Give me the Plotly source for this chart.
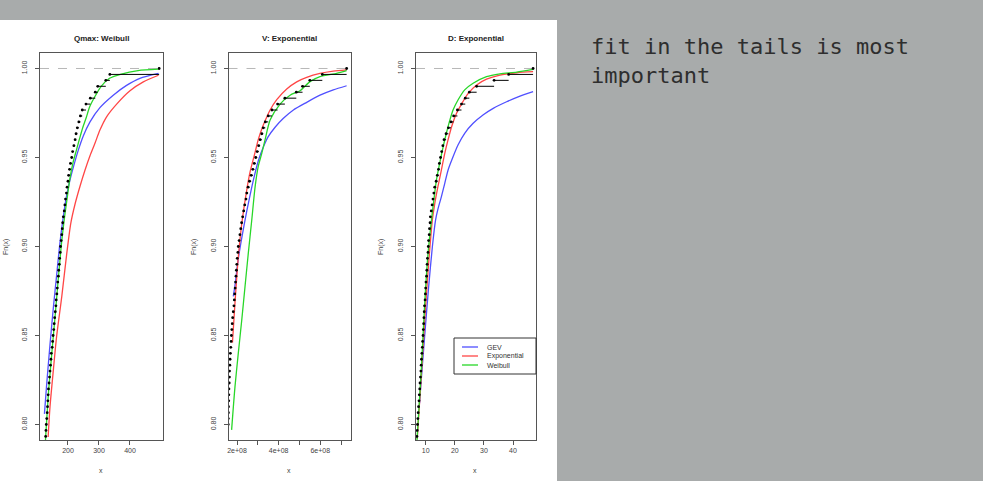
import numpy as np
import plotly.graph_objects as go

# ---------------- data ----------------
N_OBS = 300  # sample size behind each empirical CDF (only upper tail is visible)

# Panel 1: Qmax (upper-tail order statistics, ascending)
qmax_tail = [127, 128, 129, 130, 131.5, 133, 134, 135, 136, 137, 139, 140.5, 142, 143.5,
             145, 146, 149, 150.5, 152, 154, 155.5, 157, 159, 161, 162, 164, 165.5, 167,
             169, 170, 172, 173, 175, 176, 178, 180, 181.5, 183, 185, 188, 190, 192, 195,
             197, 200, 202, 205, 208, 212, 215, 219, 223, 226, 230, 235, 240, 246, 258,
             272, 288, 296, 322, 335, 494]
qmax_gev_x = [124, 131, 142, 153, 164, 174, 185, 195, 206, 218, 233, 249, 271, 303, 346, 389, 432, 492]
qmax_gev_F = [0.806, 0.822, 0.845, 0.866, 0.885, 0.902, 0.917, 0.928, 0.937, 0.945, 0.954, 0.962,
              0.970, 0.978, 0.985, 0.9905, 0.9945, 0.9973]
qmax_exp_x = [136, 142, 153, 163, 180, 196, 209, 223, 239, 255, 271, 287, 303, 325, 357, 400, 443, 492]
qmax_exp_F = [0.793, 0.810, 0.831, 0.849, 0.872, 0.896, 0.913, 0.924, 0.934, 0.943, 0.951, 0.958,
              0.9654, 0.973, 0.980, 0.9875, 0.9925, 0.9962]
qmax_wei_x = [127, 138, 158, 178, 190, 198, 205, 216, 227, 238, 248, 259, 270, 286, 307, 334, 372, 426, 492]
qmax_wei_F = [0.79, 0.82, 0.86, 0.90, 0.918, 0.928, 0.937, 0.947, 0.954, 0.961, 0.967, 0.9725,
              0.9785, 0.984, 0.990, 0.9945, 0.9969, 0.9988, 0.9996]

# Panel 2: V (values in units of 1e8)
v_tail_e8 = [1.575, 1.58, 1.585, 1.59, 1.60, 1.605, 1.61, 1.625, 1.635, 1.64, 1.655, 1.665, 1.68,
             1.70, 1.715, 1.73, 1.75, 1.77, 1.79, 1.82, 1.85, 1.87, 1.89, 1.91, 1.93, 1.95, 1.97,
             1.99, 2.01, 2.04, 2.06, 2.10, 2.14, 2.18, 2.22, 2.27, 2.32, 2.37, 2.43, 2.47, 2.53,
             2.60, 2.68, 2.76, 2.83, 2.90, 2.97, 3.04, 3.11, 3.19, 3.26, 3.36, 3.50, 3.68, 3.95,
             4.30, 4.85, 5.15, 5.50, 6.10, 7.27]
v_gev_x_e8 = [1.82, 1.90, 2.06, 2.23, 2.47, 2.63, 2.78, 3.02, 3.27, 3.50, 3.83, 4.23, 4.71, 5.35, 5.99, 6.63, 7.27]
v_gev_F = [0.872, 0.878, 0.893, 0.905, 0.920, 0.929, 0.937, 0.948, 0.956, 0.9617, 0.967, 0.972,
           0.9767, 0.981, 0.985, 0.988, 0.9903]
v_exp_x_e8 = [1.78, 1.90, 2.06, 2.23, 2.47, 2.63, 2.87, 3.02, 3.19, 3.35, 3.59, 3.91, 4.39, 4.87, 5.35, 5.99, 6.63, 7.27]
v_exp_F = [0.846, 0.868, 0.894, 0.913, 0.932, 0.942, 0.953, 0.960, 0.966, 0.9706, 0.9767, 0.9825,
           0.9885, 0.9925, 0.995, 0.9972, 0.9985, 0.9992]
v_wei_x_e8 = [1.74, 1.90, 2.06, 2.23, 2.38, 2.54, 2.71, 2.87, 3.02, 3.19, 3.35, 3.59, 4.07, 4.55, 5.03, 5.51, 5.99, 6.79, 7.27]
v_wei_F = [0.797, 0.821, 0.840, 0.859, 0.877, 0.896, 0.915, 0.9336, 0.945, 0.9523, 0.960, 0.971,
           0.980, 0.985, 0.9875, 0.9926, 0.9954, 0.9973, 0.9988]

# Panel 3: D
d_tail = [6.9, 7.0, 7.1, 7.2, 7.3, 7.4, 7.55, 7.7, 7.8, 7.95, 8.05, 8.2, 8.35, 8.45, 8.55, 8.7,
          8.85, 8.95, 9.1, 9.2, 9.3, 9.4, 9.5, 9.6, 9.8, 9.9, 10.0, 10.1, 10.3, 10.4, 10.5, 10.6,
          10.8, 10.9, 11.0, 11.2, 11.3, 11.5, 11.6, 11.9, 12.2, 12.5, 12.8, 13.1, 13.6, 14.0,
          14.4, 14.7, 15.1, 15.5, 15.9, 16.3, 17.0, 17.8, 18.7, 19.6, 20.9, 22.3, 23.6, 25.0,
          27.5, 33.5, 38.5, 46.9]
d_gev_x = [7.9, 8.1, 8.9, 9.9, 11.0, 12.3, 13.4, 14.2, 15.4, 16.55, 17.7, 19.4, 21.1, 23.4, 26.3,
           29.8, 33.2, 37.8, 42.4, 46.9]
d_gev_F = [0.812, 0.817, 0.834, 0.855, 0.877, 0.900, 0.915, 0.921, 0.928, 0.9355, 0.943, 0.9504,
           0.957, 0.9636, 0.9692, 0.974, 0.9776, 0.9813, 0.9845, 0.987]
d_exp_x = [7.1, 8.5, 9.66, 10.8, 12.3, 13.1, 14.2, 15.4, 16.55, 17.7, 18.9, 20.6, 22.3, 24.6,
           27.5, 30.9, 35.5, 41.3, 46.9]
d_exp_F = [0.792, 0.828, 0.859, 0.886, 0.915, 0.924, 0.9336, 0.943, 0.9523, 0.960, 0.9673, 0.9748,
           0.980, 0.986, 0.9907, 0.994, 0.9963, 0.9976, 0.9982]
d_wei_x = [7.0, 8.5, 9.66, 10.8, 12.0, 12.8, 13.7, 14.8, 16.0, 17.1, 18.3, 19.4, 21.1, 23.4, 26.3,
           30.9, 35.5, 41.3, 46.9]
d_wei_F = [0.791, 0.831, 0.868, 0.896, 0.915, 0.926, 0.9374, 0.9467, 0.956, 0.9636, 0.971, 0.9767,
           0.9823, 0.988, 0.9917, 0.9954, 0.997, 0.998, 0.9995]

panel_titles = ["Qmax: Weibull", "V: Exponential", "D: Exponential"]
legend_labels = ["GEV", "Exponential", "Weibull"]
y_ticks = [0.80, 0.85, 0.90, 0.95, 1.00]
y_ticktext = ["0.80", "0.85", "0.90", "0.95", "1.00"]
x_ticks = [[200, 300, 400], [2e8, 3e8, 4e8, 5e8, 6e8, 7e8], [10, 20, 30, 40]]
x_ticktext = [["200", "300", "400"], ["2e+08", "", "4e+08", "", "6e+08", ""], ["10", "20", "30", "40"]]
slide_text = ["fit in the tails is most", "important"]

# ---------------- styling / layout ----------------
W, H = 983, 481
BG = "#a8abab"
COLS = {"GEV": "rgb(80,80,255)", "Exponential": "rgb(255,70,70)", "Weibull": "rgb(40,215,40)"}
TICKFONT = dict(family="Liberation Sans, Arial, sans-serif", size=7, color="#444")


def fx(p):
    return p / W


def fy(p):
    return 1 - p / H


boxes_x = [(40, 163), (228.5, 351), (416, 536)]
box_y = (53, 440)
x_ranges = [[109.7, 506.5], [1.59e8, 7.48e8], [6.67, 47.9]]
y_range = [0.7913, 1.0087]

panels = [
    (np.array(qmax_tail, float),
     [(qmax_gev_x, qmax_gev_F), (qmax_exp_x, qmax_exp_F), (qmax_wei_x, qmax_wei_F)]),
    (np.array(v_tail_e8) * 1e8,
     [(np.array(v_gev_x_e8) * 1e8, v_gev_F), (np.array(v_exp_x_e8) * 1e8, v_exp_F),
      (np.array(v_wei_x_e8) * 1e8, v_wei_F)]),
    (np.array(d_tail, float),
     [(d_gev_x, d_gev_F), (d_exp_x, d_exp_F), (d_wei_x, d_wei_F)]),
]

fig = go.Figure()
for i, (tail, curves) in enumerate(panels):
    ax = "" if i == 0 else str(i + 1)
    xr, yr = "x" + ax, "y" + ax
    m = len(tail)
    F = (N_OBS - m + 1 + np.arange(m)) / N_OBS
    for (cx, cF), name in zip(curves, legend_labels):
        fig.add_trace(go.Scatter(x=list(cx), y=list(cF), mode="lines", xaxis=xr, yaxis=yr,
                                 line=dict(color=COLS[name], width=1.3, shape="spline", smoothing=0.7),
                                 showlegend=False, hoverinfo="skip"))
    sx, sy = [], []
    for k in range(m - 1):
        sx += [tail[k], tail[k + 1], None]
        sy += [F[k], F[k], None]
    fig.add_trace(go.Scatter(x=sx, y=sy, mode="lines", xaxis=xr, yaxis=yr,
                             line=dict(color="black", width=1), showlegend=False, hoverinfo="skip"))
    fig.add_trace(go.Scatter(x=tail, y=F, mode="markers", xaxis=xr, yaxis=yr,
                             marker=dict(color="black", size=2.8), showlegend=False, hoverinfo="skip"))

layout = dict(
    width=W, height=H, margin=dict(l=0, r=0, t=0, b=0),
    paper_bgcolor=BG, plot_bgcolor="white", showlegend=False,
    shapes=[], annotations=[],
)


def note(text, px, py, font, xanchor="center", **kw):
    return dict(text=text, xref="paper", yref="paper", x=fx(px), y=fy(py),
                xanchor=xanchor, yanchor="middle", showarrow=False, font=font, **kw)


for i in range(3):
    ax = "" if i == 0 else str(i + 1)
    x0, x1 = boxes_x[i]
    layout["xaxis" + ax] = dict(
        domain=[fx(x0), fx(x1)], range=x_ranges[i], anchor="y" + ax,
        tickvals=x_ticks[i], ticktext=x_ticktext[i], ticks="outside", ticklen=4, tickcolor="#555",
        showline=True, mirror=True, linecolor="#555", linewidth=1, showgrid=False, zeroline=False,
        tickfont=TICKFONT,
    )
    layout["yaxis" + ax] = dict(
        domain=[fy(box_y[1]), fy(box_y[0])], range=y_range, anchor="x" + ax,
        tickvals=y_ticks, ticktext=y_ticktext, tickangle=-90, ticks="outside", ticklen=4,
        tickcolor="#555", ticklabelstandoff=5,
        showline=True, mirror=True, linecolor="#555", linewidth=1, showgrid=False, zeroline=False,
        tickfont=TICKFONT,
    )
    # dashed reference line at F = 1
    layout["shapes"].append(dict(type="line", xref=("x" + ax + " domain"), x0=0, x1=1,
                                 yref="y" + ax, y0=1, y1=1,
                                 line=dict(color="#b8b8b8", width=1, dash="dash"), layer="below"))
    cx = (x0 + x1) / 2
    layout["annotations"].append(note("<b>%s</b>" % panel_titles[i], cx, 38,
                                      dict(family="Liberation Sans, Arial", size=8, color="#222")))
    layout["annotations"].append(note("x", cx - 1, 470, TICKFONT))
    ylab_x = [6, 194, 381][i]
    layout["annotations"].append(note("Fn(x)", ylab_x, 247, TICKFONT, textangle=-90))

# white image area of the slide
layout["shapes"].insert(0, dict(type="rect", xref="paper", yref="paper", x0=0, x1=fx(557), y0=0, y1=fy(20),
                                fillcolor="white", line=dict(width=0), layer="below"))

# manual legend in panel 3
layout["shapes"].append(dict(type="rect", xref="paper", yref="paper", x0=fx(454), x1=fx(536),
                             y0=fy(374), y1=fy(338), fillcolor="white", line=dict(color="#333", width=1)))
for j, name in enumerate(legend_labels):
    yy = 347 + 9 * j
    layout["shapes"].append(dict(type="line", xref="paper", yref="paper", x0=fx(462), x1=fx(478),
                                 y0=fy(yy), y1=fy(yy), line=dict(color=COLS[name], width=1.3)))
    layout["annotations"].append(note(name, 485, yy,
                                      dict(family="Liberation Sans, Arial", size=7, color="#333"),
                                      xanchor="left"))

# slide text (two lines, monospace)
layout["annotations"].append(dict(text="<br>".join(slide_text), xref="paper", yref="paper",
                                  x=fx(589), y=fy(32), xanchor="left", yanchor="top", align="left",
                                  showarrow=False,
                                  font=dict(family="DejaVu Sans Mono, monospace", size=22, color="#2e2e2e")))

fig.update_layout(**layout)
fig.write_html("out.html")
